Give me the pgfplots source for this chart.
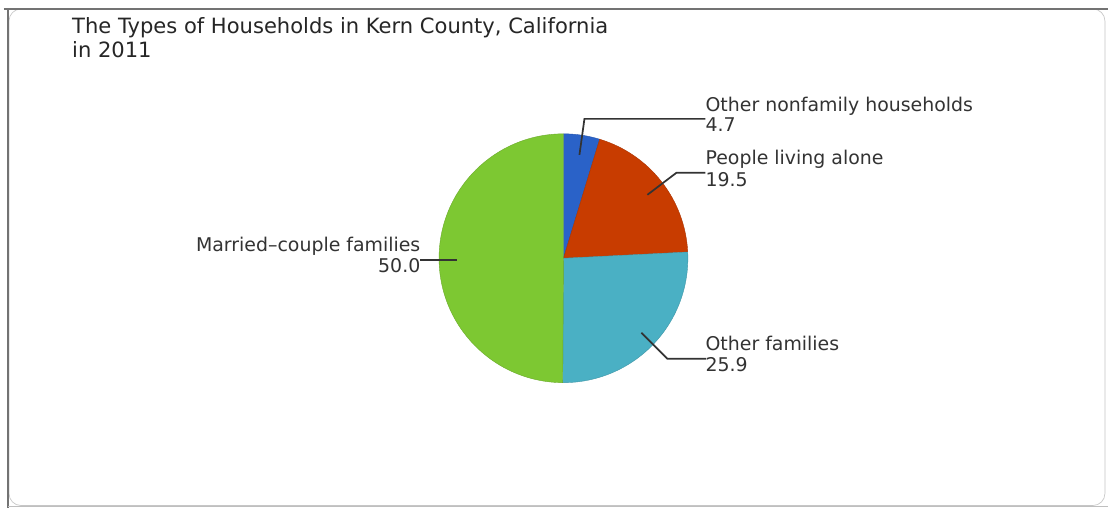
\documentclass[border=0pt]{standalone}
\usepackage{pgfplots}
\pgfplotsset{compat=1.18}
\usepackage{fontspec}
\setmainfont{DejaVu Sans}
\definecolor{cblue}{HTML}{2A62C8}
\definecolor{cred}{HTML}{C83C00}
\definecolor{cteal}{HTML}{4AB0C4}
\definecolor{cgreen}{HTML}{7DC832}
\definecolor{ctext}{HTML}{333333}
\begin{document}
\begin{tikzpicture}
\begin{axis}[
  scale only axis, width=831.75pt, height=381pt,
  xmin=0, xmax=1109, ymin=0, ymax=508, y dir=reverse,
  hide axis, clip=false,
]
% background and frame
\fill[white] (axis cs:0,0) rectangle (axis cs:1109,508);
\draw[gray!45, line width=0.5pt, rounded corners=9pt] (axis cs:9,9) rectangle (axis cs:1106,506);
\draw[gray!90!black, line width=1.6pt] (axis cs:4,9) -- (axis cs:1109,9);
\draw[gray!90!black, line width=1.4pt] (axis cs:8,9) -- (axis cs:8,508);
\draw[gray!50, line width=0.7pt] (axis cs:8,507) -- (axis cs:1109,507);
% pie wedges (values in percent, clockwise from 12 o'clock)
% Other nonfamily households 4.7
\fill[cblue, draw=cblue!85!black, line width=0.3pt] (axis cs:564,258.5) -- ++(90:93.4pt) arc[start angle=90, delta angle={-4.7*3.6}, radius=93.4pt] -- cycle;
% People living alone 19.5
\fill[cred, draw=cred!85!black, line width=0.3pt] (axis cs:564,258.5) -- ++({90-4.7*3.6}:93.4pt) arc[start angle={90-4.7*3.6}, delta angle={-19.5*3.6}, radius=93.4pt] -- cycle;
% Other families 25.9
\fill[cteal, draw=cteal!85!black, line width=0.3pt] (axis cs:564,258.5) -- ++({90-24.2*3.6}:93.4pt) arc[start angle={90-24.2*3.6}, delta angle={-25.9*3.6}, radius=93.4pt] -- cycle;
% Married-couple families 50.0
\fill[cgreen, draw=cgreen!85!black, line width=0.3pt] (axis cs:564,258.5) -- ++({90-50.1*3.6}:93.4pt) arc[start angle={90-50.1*3.6}, end angle=-270, radius=93.4pt] -- cycle;
% leader lines
\draw[ctext, line width=1.3pt] (axis cs:580,155) -- (axis cs:585,119) -- (axis cs:706,119);
\draw[ctext, line width=1.3pt] (axis cs:648,195) -- (axis cs:677,173) -- (axis cs:706,173);
\draw[ctext, line width=1.3pt] (axis cs:642,333) -- (axis cs:668,359) -- (axis cs:707,359);
\draw[ctext, line width=1.3pt] (axis cs:457,260) -- (axis cs:420,260);
% labels
\tikzset{lab/.style={inner sep=0pt, text=ctext, font=\fontsize{14.2pt}{16pt}\selectfont}}
\node[lab, anchor=base west] at (axis cs:706,112) {Other nonfamily households};
\node[lab, anchor=base west] at (axis cs:706,132) {4.7};
\node[lab, anchor=base west] at (axis cs:706,165) {People living alone};
\node[lab, anchor=base west] at (axis cs:706,187) {19.5};
\node[lab, anchor=base west] at (axis cs:706,351) {Other families};
\node[lab, anchor=base west] at (axis cs:706,372) {25.9};
\node[lab, anchor=base east] at (axis cs:421,252) {Married–couple families};
\node[lab, anchor=base east] at (axis cs:421,273) {50.0};
% title
\tikzset{ttl/.style={inner sep=0pt, text=black!85, font=\fontsize{15.8pt}{18pt}\selectfont}}
\node[ttl, anchor=base west] at (axis cs:72,34) {The Types of Households in Kern County, California};
\node[ttl, anchor=base west] at (axis cs:72,58) {in 2011};
\end{axis}
\end{tikzpicture}
\end{document}
